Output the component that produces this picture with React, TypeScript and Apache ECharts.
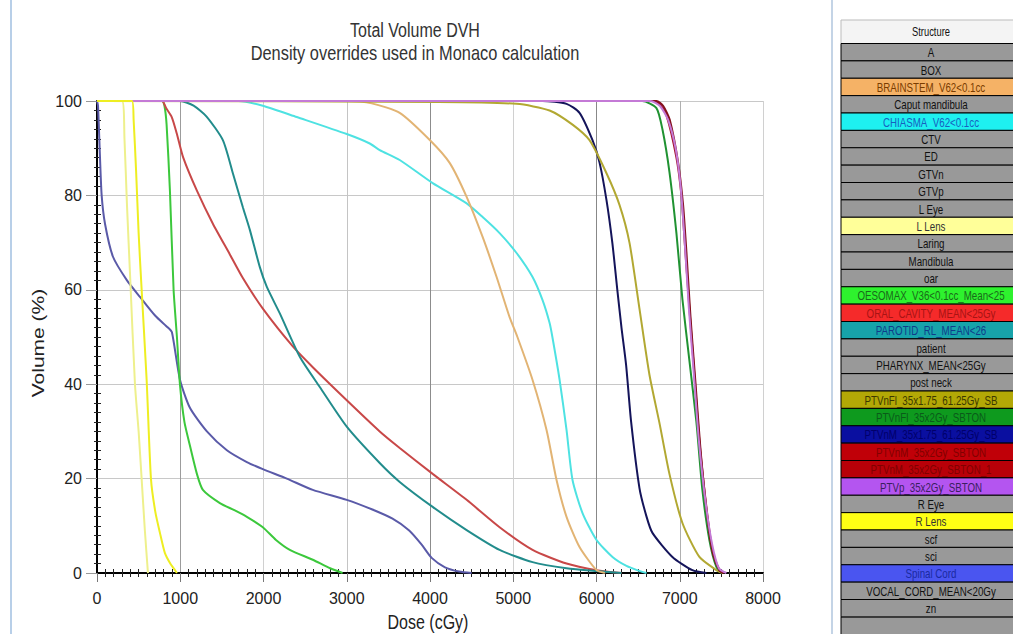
import React, { useEffect, useRef } from "react";
import * as echarts from "echarts";

// ---------- DVH curves: [dose (cGy), volume (%)] ----------
const spinalCord = [[0,100],[12,99],[36,88],[56,80],[96,74],[192,67],[360,62],[516,58.5],[700,54.5],[852,52],[900,51],[996,41],[1116,35],[1320,30],[1560,26],[1800,23.5],[1992,22],[2280,20],[2592,17.6],[3000,15.5],[3300,13.5],[3550,11.5],[3750,9],[3900,6],[4020,3.2],[4180,1.2],[4350,0.3],[4500,0]];
const oesomax = [[0,100],[780,100],[810,99],[836,95],[876,81],[920,60],[960,50],[996,40],[1050,32],[1116,27],[1200,21],[1272,17.6],[1476,14.8],[1650,13.3],[1800,11.9],[1992,9.7],[2150,7],[2316,4.9],[2592,2.8],[2800,1],[2950,0]];
const oralCavity = [[0,100],[780,100],[830,98.5],[900,96.5],[960,93],[1036,88],[1200,81],[1392,74],[1596,67.5],[1752,62.5],[1992,56],[2352,48],[2592,43.6],[3000,36.6],[3396,30],[3636,26.5],[4032,21],[4440,15.5],[4836,9.7],[5232,4.9],[5640,2],[6000,0.6],[6300,0]];
const parotid = [[0,100],[1000,100],[1160,99],[1316,96.7],[1512,91.7],[1632,84.7],[1752,77.5],[1836,72.7],[1956,64.8],[2040,60.6],[2196,55],[2436,45.8],[2676,39.4],[3000,31],[3396,23.3],[3636,19.3],[4032,14],[4440,9.1],[4836,4.9],[5232,2.3],[5640,1],[6000,0.4],[6300,0]];
const chiasma = [[0,100],[1700,100],[1992,99],[2400,96.6],[3000,93],[3276,91],[3396,89.6],[3636,87.5],[4032,82.6],[4440,78.3],[4632,75.4],[4836,72],[5040,67.8],[5232,62.7],[5352,57.8],[5436,53],[5470,50],[5556,41],[5640,30.3],[5712,19.7],[5832,12.7],[6000,7],[6192,3.4],[6360,1.5],[6520,0.4],[6600,0]];
const brainstem = [[0,100],[3000,100],[3300,99.5],[3636,97.5],[4000,91.7],[4236,86.9],[4440,79.7],[4632,71.2],[4800,62.7],[4956,54.2],[5050,50],[5232,40.9],[5400,30.3],[5520,19.7],[5640,11.9],[5796,5.5],[6000,0.6],[6100,0]];
const ptvnM175 = [[0,100],[5352,100],[5640,99.4],[5796,97.5],[5952,91.7],[6036,87],[6120,79],[6190,70],[6250,60],[6300,52],[6356,44],[6416,32],[6516,18],[6600,12],[6672,8.5],[6912,3.4],[7152,0.6],[7320,0]];
const ptvnFl175 = [[0,100],[4100,99.8],[5040,99.4],[5436,98],[5712,95],[5916,91.7],[6120,84.7],[6276,78],[6396,70],[6516,56],[6636,42],[6756,31.8],[6876,21],[7032,10.6],[7236,3.4],[7440,0.6],[7512,0]];
const ptvnFl2 = [[0,100],[6550,100],[6720,98.5],[6792,94],[6876,85],[6960,72],[7032,58],[7116,45],[7200,32],[7272,17.6],[7356,7],[7440,1.3],[7512,0]];
const ptvnM2 = [[0,100],[6696,100],[6756,99.4],[6840,97],[6960,88],[7020,80],[7056,71],[7116,56],[7176,42],[7236,28],[7320,14],[7392,4.9],[7476,0.6],[7520,0]];
const ptvnM2b = [[0,100],[6720,100],[6800,99],[6880,96],[6980,87],[7040,78],[7080,68],[7130,54],[7190,40],[7250,26],[7330,12],[7400,4],[7480,0.5],[7530,0]];
const ptvp = [[0,100],[6650,100],[6760,99],[6860,96],[6950,90],[7010,82],[7060,70],[7110,56],[7170,42],[7230,28],[7310,15],[7390,6],[7470,1],[7560,0]];
const lLens = [[0,100],[300,100],[330,92],[360,78],[400,62],[456,40],[500,30],[536,20],[575,9],[612,0]];
const rLens = [[0,100],[420,100],[440,96],[470,85],[500,72],[530,62],[596,41],[648,20],[700,13],[756,8.5],[816,4.2],[880,2],[936,0.6],[960,0]];

const curveNames = ["Spinal Cord","OESOMAX_V36<0.1cc_Mean<25","ORAL_CAVITY_MEAN<25Gy","PAROTID_RL_MEAN<26","CHIASMA_V62<0.1cc","BRAINSTEM_V62<0.1cc","PTVnM_35x1.75_61.25Gy_SB","PTVnFl_35x1.75_61.25Gy_SB","PTVnFl_35x2Gy_SBTON","PTVnM_35x2Gy_SBTON","PTVnM_35x2Gy_SBTON_1","PTVp_35x2Gy_SBTON","L Lens","R Lens"];
const curveData = [spinalCord, oesomax, oralCavity, parotid, chiasma, brainstem, ptvnM175, ptvnFl175, ptvnFl2, ptvnM2, ptvnM2b, ptvp, lLens, rLens];
const curveColors = ["#5a5aa8","#3cc83c","#c84848","#228c8c","#4ee2e2","#e2b474","#14145a","#b2a832","#209232","#a4102e","#84101e","#c47ad6","#eef08c","#eeee22"];

// ---------- structure table ----------
const structureNames = ["A","BOX","BRAINSTEM_V62<0.1cc","Caput mandibula","CHIASMA_V62<0.1cc","CTV","ED","GTVn","GTVp","L Eye","L Lens","Laring","Mandibula","oar","OESOMAX_V36<0.1cc_Mean<25","ORAL_CAVITY_MEAN<25Gy","PAROTID_RL_MEAN<26","patient","PHARYNX_MEAN<25Gy","post neck","PTVnFl_35x1.75_61.25Gy_SB","PTVnFl_35x2Gy_SBTON","PTVnM_35x1.75_61.25Gy_SB","PTVnM_35x2Gy_SBTON","PTVnM_35x2Gy_SBTON_1","PTVp_35x2Gy_SBTON","R Eye","R Lens","scf","sci","Spinal Cord","VOCAL_CORD_MEAN<20Gy","zn"];
const G = "#999999";
const structureFills = [G,G,"#f5b266",G,"#1ef0f0",G,G,G,G,G,"#ffff99",G,G,G,"#2ef22e","#f52a2a","#17a3aa",G,G,G,"#b3a806","#0e9a1e","#0a0fa0","#c00008","#b80008","#b455f0",G,"#ffff14",G,G,"#4a55f0",G,G];
const T = "#111111";
const structureText = [T,T,"#7a3c00",T,"#1860c0",T,T,T,T,T,"#333333",T,T,T,"#1a6a1a","#a81414","#103c8c",T,T,T,"#3c3800","#0a5a1a","#00006a","#800000","#800000","#3a2060",T,"#333333",T,T,"#1a2aa0",T,T];

const xGridColors = ["#999999","#9c9c9c","#d0d0d0","#c4c4c4","#8c8c8c","#d0d0d0","#888888","#b0b0b0","#d0d0d0"];

const SANS = '"Liberation Sans", Arial, sans-serif';

export default function App() {
  const ref = useRef<HTMLDivElement>(null);
  useEffect(() => {
    if (!ref.current) return;
    const chart = echarts.init(ref.current, undefined, { renderer: "svg" });

    const txt = (text: string, x: number, y: number, size: number, fill: string, sx = 0.8) => ({
      type: "text", x, y, scaleX: sx,
      style: { text, font: `${size}px ${SANS}`, fill, align: "center", verticalAlign: "middle", textAlign: "center", textVerticalAlign: "middle" },
    });

    const tableX = 841, tableW = 182, rowTop = 43.5, rowH = 17.375;
    const table: any[] = [];
    table.push({ type: "line", shape: { x1: 832, y1: 0, x2: 832, y2: 634 }, style: { stroke: "#c4d4e6", lineWidth: 2 } });
    table.push({ type: "rect", shape: { x: tableX, y: 20, width: tableW, height: rowTop - 20 }, style: { fill: "#f4f4f4", stroke: "#bbbbbb", lineWidth: 1 } });
    table.push(txt("Structure", 931, 31.5, 12, "#111", 0.78));
    const nRows = structureNames.length;
    table.push({ type: "rect", shape: { x: tableX, y: rowTop + nRows * rowH, width: tableW, height: 40 }, style: { fill: G, stroke: "#000", lineWidth: 1 } });
    structureNames.forEach((name, i) => {
      const y = rowTop + i * rowH;
      table.push({ type: "rect", shape: { x: tableX, y, width: tableW, height: rowH }, style: { fill: structureFills[i], stroke: "#000", lineWidth: 1 } });
      table.push(txt(name, 931, y + rowH / 2 + 0.5, 12.5, structureText[i], 0.78));
    });

    const labelFmt = (v: number) => String(v);

    const option: any = {
      animation: false,
      backgroundColor: "#ffffff",
      grid: { left: 97, right: 250, top: 101, bottom: 61 },
      xAxis: [
        {
          type: "value", min: 0, max: 8000, interval: 1000, position: "bottom",
          axisLine: { show: true, onZero: false, lineStyle: { color: "#000", width: 2 } },
          axisTick: { show: true, length: 9, lineStyle: { color: "#777" } },
          minorTick: { show: true, splitNumber: 10, length: 4, lineStyle: { color: "#222" } },
          axisLabel: { margin: 17, fontSize: 16, fontFamily: SANS, color: "#222", formatter: labelFmt },
          splitLine: { show: true, lineStyle: { color: xGridColors, width: 1 } },
        },
        {
          type: "value", min: 0, max: 8000, interval: 1000, position: "bottom",
          axisLine: { show: false, onZero: false },
          axisTick: { show: false, inside: true },
          minorTick: { show: true, splitNumber: 10, length: 4, lineStyle: { color: "#222" } },
          axisLabel: { show: false }, splitLine: { show: false },
        },
      ],
      yAxis: [
        {
          type: "value", min: 0, max: 100, interval: 20, position: "left",
          axisLine: { show: true, onZero: false, lineStyle: { color: "#000", width: 2 } },
          axisTick: { show: true, length: 11, lineStyle: { color: "#999" } },
          minorTick: { show: true, splitNumber: 10, length: 3, lineStyle: { color: "#222" } },
          axisLabel: { margin: 15, fontSize: 16, fontFamily: SANS, color: "#222", formatter: labelFmt },
          splitLine: { show: true, lineStyle: { color: "#c8c8c8", width: 1 } },
        },
        {
          type: "value", min: 0, max: 100, interval: 20, position: "left",
          axisLine: { show: false, onZero: false },
          axisTick: { show: false, inside: true },
          minorTick: { show: true, splitNumber: 10, length: 4, lineStyle: { color: "#222" } },
          axisLabel: { show: false }, splitLine: { show: false },
        },
      ],
      series: curveData.map((d, i) => ({
        name: curveNames[i], type: "line", data: d, showSymbol: false, symbol: "none",
        smooth: 0.22,
        xAxisIndex: 0, yAxisIndex: 0,
        lineStyle: { color: curveColors[i], width: 2 }, itemStyle: { color: curveColors[i] },
      })),
      graphic: [
        { type: "line", shape: { x1: 11, y1: 0, x2: 11, y2: 634 }, style: { stroke: "#b8cfe8", lineWidth: 2 } },
        txt("Total Volume DVH", 415, 30, 20, "#333"),
        txt("Density overrides used in Monaco calculation", 415, 53, 20, "#333", 0.82),
        txt("Dose (cGy)", 428, 622, 20, "#222"),
        { type: "text", x: 38, y: 343, rotation: Math.PI / 2, scaleY: 0.8, style: { text: "Volume (%)", font: `21px ${SANS}`, fill: "#222", align: "center", verticalAlign: "middle", textAlign: "center", textVerticalAlign: "middle" } },
        ...table,
      ],
    };
    chart.setOption(option);
    return () => chart.dispose();
  }, []);
  return <div ref={ref} style={{ position: "fixed", left: 0, top: 0, width: 1013, height: 634, background: "#fff" }} />;
}
